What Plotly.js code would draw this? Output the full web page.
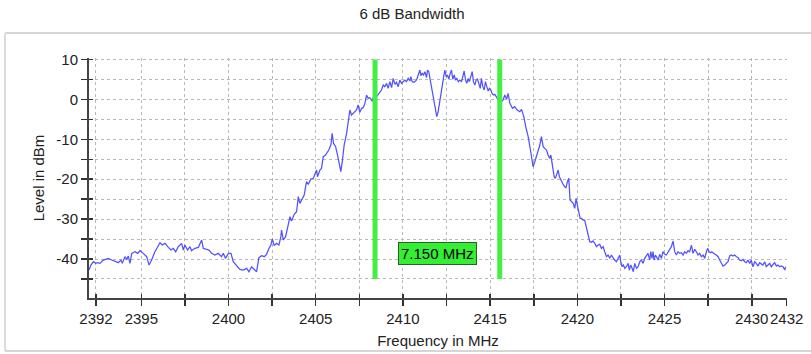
<!DOCTYPE html>
<html>
<head>
<meta charset="utf-8">
<script src="https://cdn.plot.ly/plotly-3.0.1.min.js"></script>
<style>
  html, body { margin: 0; padding: 0; background: #fff; }
  #chart { width: 811px; height: 354px; }
</style>
</head>
<body>
<div id="chart"></div>
<script>
// Measured spectrum: frequency (MHz) and level (dBm)
const freqMHz = [
  2392.00, 2392.11, 2392.25, 2392.38, 2392.50, 2392.63, 2392.82, 2392.95, 2393.11, 2393.30,
  2393.49, 2393.68, 2393.83, 2393.91, 2394.06, 2394.16, 2394.25, 2394.35, 2394.45, 2394.64,
  2394.79, 2394.92, 2395.11, 2395.31, 2395.44, 2395.59, 2395.78, 2395.94, 2396.07, 2396.20,
  2396.36, 2396.55, 2396.70, 2396.83, 2396.97, 2397.12, 2397.31, 2397.41, 2397.50, 2397.65,
  2397.79, 2397.88, 2398.07, 2398.27, 2398.46, 2398.55, 2398.74, 2398.88, 2399.03, 2399.22,
  2399.41, 2399.60, 2399.70, 2399.83, 2399.99, 2400.14, 2400.27, 2400.46, 2400.65, 2400.84,
  2401.04, 2401.17, 2401.32, 2401.51, 2401.61,
  2401.74, 2401.90, 2402.05, 2402.18, 2402.32, 2402.43, 2402.51, 2402.62, 2402.75, 2402.89,
  2403.00, 2403.04, 2403.14, 2403.27, 2403.42, 2403.52, 2403.61, 2403.77, 2403.90, 2404.00,
  2404.09, 2404.23, 2404.34, 2404.42, 2404.47, 2404.57, 2404.72, 2404.86, 2404.95, 2405.05,
  2405.10, 2405.24, 2405.33, 2405.43, 2405.56, 2405.68, 2405.75, 2405.87, 2405.94, 2406.02,
  2406.14, 2406.25, 2406.38, 2406.44, 2406.52, 2406.63, 2406.77, 2406.86, 2406.96, 2407.05,
  2407.15, 2407.24, 2407.34, 2407.43, 2407.53, 2407.63, 2407.72, 2407.82, 2407.91, 2408.01,
  2408.10, 2408.24, 2408.35, 2408.49, 2408.62, 2408.77, 2408.87, 2408.96, 2409.06, 2409.15,
  2409.25, 2409.35, 2409.44, 2409.54, 2409.63, 2409.73, 2409.82, 2409.92, 2410.01,
  2410.11, 2410.20, 2410.30, 2410.40, 2410.45, 2410.53, 2410.64, 2410.78, 2410.87, 2410.97,
  2411.03, 2411.10, 2411.18, 2411.26, 2411.35, 2411.41, 2411.48, 2411.56, 2411.64, 2411.71,
  2411.79, 2411.87, 2411.94, 2412.02, 2412.10, 2412.17, 2412.25, 2412.32, 2412.40, 2412.48,
  2412.55, 2412.63, 2412.71, 2412.78, 2412.86, 2412.94, 2413.01, 2413.09, 2413.17, 2413.26,
  2413.36, 2413.43, 2413.51, 2413.59, 2413.66, 2413.74, 2413.81, 2413.89, 2413.97, 2414.04,
  2414.12, 2414.20, 2414.27, 2414.35, 2414.43, 2414.50, 2414.58, 2414.66, 2414.73, 2414.81,
  2414.89, 2414.96, 2415.04, 2415.11, 2415.19, 2415.27, 2415.38, 2415.50, 2415.65, 2415.74,
  2415.84, 2415.94, 2416.03, 2416.13, 2416.28, 2416.41, 2416.55, 2416.70, 2416.80, 2416.93,
  2417.04, 2417.18, 2417.31, 2417.46, 2417.56, 2417.65, 2417.75, 2417.85, 2417.94, 2418.04,
  2418.13, 2418.23, 2418.32, 2418.42, 2418.48, 2418.55, 2418.61, 2418.67, 2418.74, 2418.82,
  2418.90, 2418.97, 2419.05, 2419.13, 2419.20, 2419.28, 2419.35, 2419.43, 2419.51, 2419.58,
  2419.66, 2419.76, 2419.85, 2419.93, 2420.00, 2420.08, 2420.16, 2420.23, 2420.33, 2420.42,
  2420.52, 2420.62, 2420.71, 2420.81, 2420.90, 2421.00, 2421.09, 2421.19, 2421.28, 2421.38,
  2421.48, 2421.57, 2421.67, 2421.76, 2421.86, 2421.95, 2422.05, 2422.14, 2422.24, 2422.33,
  2422.43, 2422.49, 2422.56, 2422.64, 2422.72, 2422.81, 2422.91, 2422.98, 2423.06, 2423.14,
  2423.21, 2423.29, 2423.39, 2423.48, 2423.58, 2423.67, 2423.77, 2423.86, 2423.96, 2424.05,
  2424.15, 2424.21, 2424.28, 2424.34, 2424.40, 2424.47, 2424.53, 2424.63, 2424.72, 2424.82,
  2424.91, 2425.01, 2425.10, 2425.20, 2425.30, 2425.39, 2425.49, 2425.58, 2425.68, 2425.77,
  2425.87, 2425.96, 2426.06, 2426.15, 2426.25, 2426.35, 2426.44, 2426.54, 2426.63, 2426.73,
  2426.82, 2426.92, 2427.01, 2427.11, 2427.21, 2427.30, 2427.40, 2427.47, 2427.55, 2427.63,
  2427.70, 2427.78, 2427.87, 2427.97, 2428.07, 2428.16, 2428.26, 2428.35, 2428.45, 2428.54,
  2428.64, 2428.73, 2428.83, 2428.92, 2429.02, 2429.12, 2429.21, 2429.31, 2429.40, 2429.50,
  2429.59, 2429.69, 2429.78, 2429.88, 2429.97, 2430.07, 2430.17, 2430.26, 2430.36, 2430.45,
  2430.55, 2430.64, 2430.74, 2430.83, 2430.93, 2431.03, 2431.12, 2431.22, 2431.31, 2431.41,
  2431.50, 2431.60, 2431.69, 2431.79, 2431.89, 2431.94
];

const levelDbm = [
  -42.76, -41.51, -40.67, -41.09, -40.92, -41.09, -40.26, -40.09, -39.84, -40.26,
  -40.67, -40.92, -40.26, -41.09, -39.42, -40.09, -39.25, -41.09, -38.58, -38.17,
  -38.58, -37.92, -38.58, -39.42, -41.51, -40.26, -38.17, -36.91, -35.91, -36.50,
  -36.08, -37.08, -37.75, -37.33, -38.17, -36.91, -36.08, -37.75, -36.50, -37.75,
  -36.91, -37.92, -37.33, -37.08, -35.24, -37.33, -37.58, -37.75, -38.58, -39.00,
  -38.58, -39.42, -38.58, -39.84, -38.58, -38.58, -40.67, -41.51, -42.59, -42.76,
  -42.34, -43.18, -41.93, -42.76, -43.18,
  -39.66, -39.16, -39.41, -38.83, -37.33, -36.49, -34.99, -36.66, -36.07, -36.49,
  -34.40, -32.73, -35.24, -34.40, -31.48, -29.39, -30.48, -28.81, -28.14, -24.38,
  -26.05, -24.80, -23.96, -21.87, -20.62, -21.29, -19.95, -19.78, -18.53, -17.69,
  -19.37, -17.69, -17.28, -14.35, -13.94, -13.10, -12.68, -11.43, -8.50, -11.01,
  -11.85, -13.94, -16.86, -18.11, -15.61, -11.43, -8.50, -5.16, -2.66, -3.91,
  -3.49, -3.07, -2.66, -1.40, -3.24, -2.24, -2.07, -0.99, 1.10, 0.27,
  0.43, -0.40, 1.10, 0.69, 1.52, 2.36, 3.61, 3.19, 4.03, 2.77,
  4.44, 2.94, 5.28, 3.78, 4.28, 3.19, 4.86, 4.03, 4.44,
  4.86, 4.44, 5.28, 4.61, 5.70, 4.44, 4.28, 4.86, 6.12, 7.37,
  5.95, 6.53, 6.12, 6.95, 5.45, 7.37, 6.95, 4.86, 3.61, 1.94,
  -0.57, -2.24, -4.33, -3.07, -0.57, 1.94, 4.03, 5.28, 7.37, 5.70,
  6.12, 5.11, 6.53, 7.37, 5.11, 6.12, 4.86, 5.28, 4.44, 4.86,
  4.44, 6.12, 7.12, 4.86, 4.03, 5.28, 4.44, 5.70, 6.95, 4.44,
  3.61, 4.86, 5.11, 4.03, 2.77, 5.28, 3.19, 2.36, 4.44, 3.19,
  2.10, 2.77, 2.36, 1.52, 1.10, 1.27, 0.27, -0.40, -0.57, -0.15,
  1.10, 0.02, 1.52, -0.99, -2.24, -1.82, -2.66, -3.07, -2.49, -4.33,
  -6.83, -9.34, -12.68, -16.86, -15.61, -14.35, -12.68, -11.43, -9.34, -11.85,
  -12.26, -12.68, -13.94, -14.77, -13.94, -15.61, -17.69, -19.37, -19.78, -18.95,
  -17.69, -19.37, -20.20, -20.62, -21.45, -21.87, -22.12, -20.62, -19.78, -25.21,
  -25.63, -26.05, -27.30, -24.80, -26.47, -28.56, -29.81, -29.81, -30.23, -30.23,
  -31.90, -33.99, -35.66, -35.82, -35.49, -36.07, -36.91, -36.49, -36.33, -37.33,
  -36.91, -38.16, -39.41, -39.00, -39.83, -39.00, -39.83, -40.25, -40.67, -39.83,
  -39.00, -40.67, -41.92, -41.50, -42.34, -41.92, -41.09, -42.76, -41.50, -42.34,
  -43.18, -41.09, -42.34, -41.92, -40.67, -40.25, -41.09, -39.83, -39.00, -38.58,
  -40.25, -38.16, -39.83, -38.16, -40.25, -39.00, -39.41, -40.25, -38.83, -39.83,
  -38.16, -38.83, -39.00, -38.16, -37.33, -36.91, -35.49, -38.16, -39.00, -38.16,
  -38.58, -38.42, -39.00, -38.17, -38.58, -37.92, -38.17, -36.50, -38.58, -37.58,
  -38.17, -39.00, -38.58, -39.42, -39.00, -39.84, -38.17, -37.33, -38.17, -38.42,
  -38.17, -38.58, -38.75, -39.00, -39.42, -40.26, -41.09, -41.76, -41.51, -41.09,
  -40.67, -39.25, -39.00, -39.25, -39.00, -39.42, -39.59, -40.26, -40.42, -40.09,
  -40.67, -40.92, -40.26, -41.09, -40.26, -41.93, -40.67, -41.09, -41.76, -40.92,
  -41.26, -41.51, -40.67, -41.93, -41.51, -41.09, -41.93, -41.51, -40.92, -41.76,
  -41.51, -41.93, -41.76, -41.93, -42.76, -41.93
];

// 6 dB band edges (MHz) and the vertical extent of the edge markers (dBm)
const bandEdgesMHz = [2408.40, 2415.55];
const markerSpanDbm = [10, -45];

// Axis ticks
const xTickVals = [2392.4, 2395, 2397.5, 2400, 2402.5, 2405, 2407.5, 2410, 2412.5,
                   2415, 2417.5, 2420, 2422.5, 2425, 2427.5, 2430, 2432];
const xTickText = ['2392', '2395', '', '2400', '', '2405', '', '2410', '',
                   '2415', '', '2420', '', '2425', '', '2430', '2432'];
const yTickVals = [10, 5, 0, -5, -10, -15, -20, -25, -30, -35, -40, -45];
const yTickText = ['10', '', '0', '', '-10', '', '-20', '', '-30', '', '-40', ''];

const FONT = 'Liberation Sans, Arial, Helvetica, sans-serif';
const X_RANGE = [2392, 2432.02];
const Y_RANGE = [-49.77, 10.38];
const bandwidth = bandEdgesMHz[1] - bandEdgesMHz[0];

const traces = [
  {
    x: freqMHz, y: levelDbm, type: 'scatter', mode: 'lines',
    line: { color: '#5252ff', width: 1.25 },
    xaxis: 'x', yaxis: 'y', hoverinfo: 'skip'
  }
].concat(bandEdgesMHz.map(f => ({
  x: [f, f], y: markerSpanDbm, type: 'scatter', mode: 'lines',
  line: { color: '#44ee44', width: 5 },
  xaxis: 'x2', yaxis: 'y2', hoverinfo: 'skip'
})));

const tickStyle = { tickwidth: 1.5, tickcolor: '#333' };

const layout = {
  width: 811, height: 354,
  margin: { l: 89, r: 24, t: 58, b: 56, pad: 0 },
  paper_bgcolor: '#ffffff', plot_bgcolor: '#ffffff',
  showlegend: false,
  font: { family: FONT, color: '#222' },
  title: {
    text: '6 dB Bandwidth',
    font: { family: FONT, size: 15, color: '#222' },
    xref: 'container', x: 0.508, xanchor: 'center',
    yref: 'container', y: 0.9605, yanchor: 'middle'
  },
  xaxis: Object.assign({
    range: X_RANGE, tickmode: 'array', tickvals: xTickVals, ticktext: xTickText,
    ticks: 'outside', ticklen: 6, tickangle: 0,
    showline: true, linecolor: '#444', linewidth: 2,
    showgrid: true, gridcolor: '#b8b8b8', gridwidth: 1, griddash: 'dot',
    zeroline: false, automargin: false, fixedrange: true,
    tickfont: { family: FONT, size: 15, color: '#222' },
    title: { text: 'Frequency in MHz', font: { family: FONT, size: 15, color: '#222' }, standoff: 9 }
  }, tickStyle),
  yaxis: Object.assign({
    range: Y_RANGE, tickmode: 'array', tickvals: yTickVals, ticktext: yTickText,
    ticks: 'outside', ticklen: 6,
    showline: true, linecolor: '#444', linewidth: 2,
    showgrid: true, gridcolor: '#b8b8b8', gridwidth: 1, griddash: 'dot',
    zeroline: false, automargin: false, fixedrange: true,
    tickfont: { family: FONT, size: 15, color: '#222' },
    title: { text: 'Level in dBm', font: { family: FONT, size: 15, color: '#222' }, standoff: 8 }
  }, tickStyle),
  // overlay axes carry the inner half of each tick mark
  xaxis2: Object.assign({
    overlaying: 'x', anchor: 'y2', range: X_RANGE,
    tickmode: 'array', tickvals: xTickVals, showticklabels: false,
    ticks: 'inside', ticklen: 4, showgrid: false, showline: false, zeroline: false,
    fixedrange: true
  }, tickStyle),
  yaxis2: Object.assign({
    overlaying: 'y', anchor: 'x2', range: Y_RANGE,
    tickmode: 'array', tickvals: yTickVals, showticklabels: false,
    ticks: 'inside', ticklen: 4, showgrid: false, showline: false, zeroline: false,
    fixedrange: true
  }, tickStyle),
  annotations: [{
    xref: 'x', yref: 'y',
    x: (bandEdgesMHz[0] + bandEdgesMHz[1]) / 2, y: -38.5,
    text: bandwidth.toFixed(3) + ' MHz',
    showarrow: false,
    font: { family: FONT, size: 15, color: '#000' },
    bgcolor: '#33ee33', bordercolor: '#2d5e2d', borderwidth: 1, borderpad: 2
  }],
  // panel frame around the chart area
  shapes: [
    { type: 'line', xref: 'paper', yref: 'paper', x0: -0.1203, x1: 1.0344, y0: 1.1042, y1: 1.1042,
      line: { color: '#d6d6d6', width: 2 } },
    { type: 'line', xref: 'paper', yref: 'paper', x0: -0.1203, x1: -0.1203, y0: 1.1042, y1: -0.2208,
      line: { color: '#dcdcdc', width: 2 } },
    { type: 'line', xref: 'paper', yref: 'paper', x0: -0.1203, x1: 1.0344, y0: -0.2208, y1: -0.2208,
      line: { color: '#d6d6d6', width: 2 } }
  ]
};

Plotly.newPlot('chart', traces, layout, { staticPlot: true, displayModeBar: false });
</script>
</body>
</html>
